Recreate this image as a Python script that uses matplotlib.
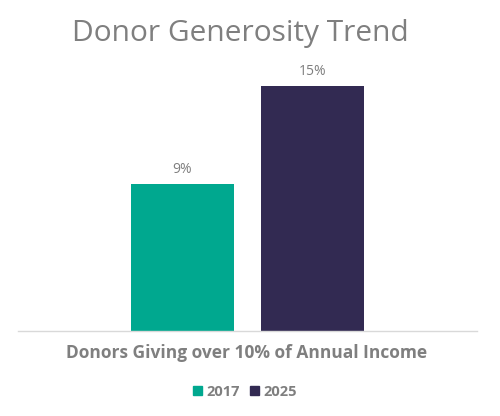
import matplotlib
matplotlib.use('Agg')
from matplotlib import pyplot as plt
from matplotlib.patches import Patch

category = 'Donors Giving over 10% of Annual Income'
years = ['2017', '2025']
values = [9, 15]
colors = ['#00a88f', '#322a52']

plt.rcParams['font.family'] = ['Open Sans', 'DejaVu Sans']

fig = plt.figure(figsize=(5, 4.16), dpi=100)
ax = fig.add_axes([0.036, 0.2043, 0.918, 0.707])

offsets = [-0.1416, 0.1416]
width = 0.2244
for off, v, c, yr in zip(offsets, values, colors, years):
    b = ax.bar(off, v, width=width, color=c, label=yr)
    ax.text(off, v + 0.4, f'{v}%', ha='center', va='bottom', fontsize=10, color='#7f7f7f')

ax.set_xlim(-0.5, 0.5)
ax.set_ylim(0, 18)
for s in ['top', 'right', 'left']:
    ax.spines[s].set_visible(False)
ax.spines['bottom'].set_color('#d9d9d9')
ax.spines['bottom'].set_linewidth(1)
ax.set_yticks([])
ax.set_xticks([])

fig.text(0.48, 0.92, 'Donor Generosity Trend', ha='center', va='center', fontsize=21.5, color='#7f7f7f')
fig.text(0.494, 0.152, category, ha='center', va='center', fontsize=12.5, fontweight='bold', color='#7f7f7f')

handles = [Patch(color=c) for c in colors]
fig.legend(handles, years, loc='center', bbox_to_anchor=(0.49, 0.058), ncol=2, frameon=False,
           handlelength=0.6, handleheight=0.6, handletextpad=0.3, columnspacing=0.7,
           prop={'size': 10.5, 'weight': 'bold'}, labelcolor='#7f7f7f')

fig.savefig('out.png', dpi=100)
